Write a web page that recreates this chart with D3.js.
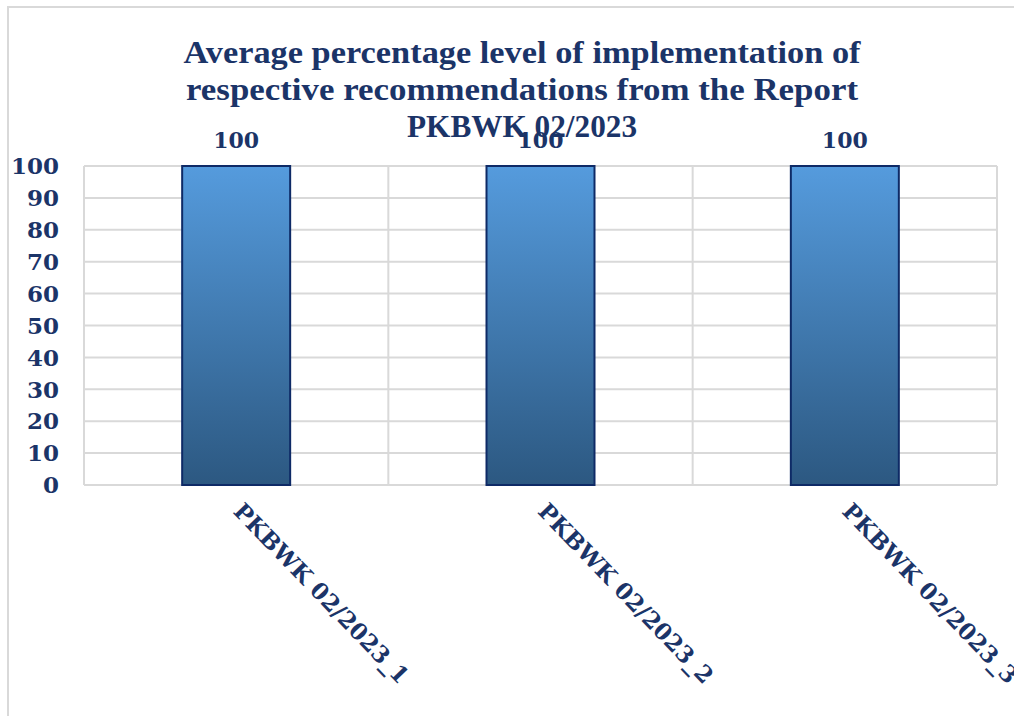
<!DOCTYPE html>
<html>
<head>
<meta charset="utf-8">
<script src="https://cdn.jsdelivr.net/npm/d3@7"></script>
<style>
  body { margin: 0; background: #fff; }
  svg { display: block; }
</style>
</head>
<body>
<svg width="1014" height="716"></svg>
<script>
  // data
  const categories = ['PKBWK 02/2023_1', 'PKBWK 02/2023_2', 'PKBWK 02/2023_3'];
  const values = [100, 100, 100];
  const yTicks = [0, 10, 20, 30, 40, 50, 60, 70, 80, 90, 100];
  const titleLines = [
    'Average percentage level of implementation of',
    'respective recommendations from the Report',
    'PKBWK 02/2023'
  ];

  const svg = d3.select('svg');
  const navy = '#1b3468';
  const titleFont = '"Liberation Serif", "DejaVu Serif", serif';
  const font = '"DejaVu Serif", serif';

  // outer chart border
  svg.append('rect')
    .attr('x', 8).attr('y', 7).attr('width', 1020).attr('height', 730)
    .attr('fill', 'none').attr('stroke', '#d9d9d9').attr('stroke-width', 2);

  const plot = { left: 84, right: 997, top: 166, bottom: 485 };

  const x = d3.scaleBand()
    .domain(categories)
    .range([plot.left, plot.right])
    .paddingInner(0).paddingOuter(0);

  const y = d3.scaleLinear().domain([0, 100]).range([plot.bottom, plot.top]);

  const defs = svg.append('defs');
  const grad = defs.append('linearGradient')
    .attr('id', 'barGrad').attr('x1', 0).attr('y1', 0).attr('x2', 0).attr('y2', 1);
  grad.append('stop').attr('offset', '0%').attr('stop-color', '#559bdd');
  grad.append('stop').attr('offset', '100%').attr('stop-color', '#2c5881');

  // horizontal gridlines
  svg.append('g').selectAll('line')
    .data(yTicks)
    .enter().append('line')
    .attr('x1', plot.left).attr('x2', plot.right)
    .attr('y1', d => y(d)).attr('y2', d => y(d))
    .attr('stroke', '#d9d9d9').attr('stroke-width', 2);

  // vertical gridlines at category boundaries
  const bounds = categories.map(c => x(c)).concat([plot.right]);
  svg.append('g').selectAll('line')
    .data(bounds)
    .enter().append('line')
    .attr('x1', d => d).attr('x2', d => d)
    .attr('y1', plot.top).attr('y2', plot.bottom)
    .attr('stroke', '#d9d9d9').attr('stroke-width', 2);

  // y axis labels
  svg.append('g').selectAll('text')
    .data(yTicks)
    .enter().append('text')
    .attr('x', 59).attr('y', d => y(d))
    .attr('dy', '0.36em')
    .attr('text-anchor', 'end')
    .attr('font-family', font).attr('font-weight', 'bold')
    .attr('font-size', 23).attr('fill', navy)
    .text(d => d);

  // bars
  const barW = 108;
  svg.append('g').selectAll('rect')
    .data(values)
    .enter().append('rect')
    .attr('x', (d, i) => x(categories[i]) + x.bandwidth() / 2 - barW / 2)
    .attr('y', d => y(d))
    .attr('width', barW)
    .attr('height', d => y(0) - y(d))
    .attr('fill', 'url(#barGrad)')
    .attr('stroke', '#0e2a66').attr('stroke-width', 2);

  // value labels
  svg.append('g').selectAll('text')
    .data(values)
    .enter().append('text')
    .attr('x', (d, i) => x(categories[i]) + x.bandwidth() / 2)
    .attr('y', d => y(d) - 18)
    .attr('text-anchor', 'middle')
    .attr('font-family', font).attr('font-weight', 'bold')
    .attr('font-size', 22).attr('fill', navy)
    .text(d => d);

  // rotated category labels
  svg.append('g').selectAll('text')
    .data(categories)
    .enter().append('text')
    .attr('transform', c => `translate(${x(c) + x.bandwidth() / 2 + 2},${plot.bottom + 22}) rotate(46)`)
    .attr('text-anchor', 'start')
    .attr('dy', '0.35em')
    .attr('font-family', font).attr('font-weight', 'bold')
    .attr('font-size', 23).attr('fill', navy)
    .attr('textLength', 240)
    .attr('lengthAdjust', 'spacingAndGlyphs')
    .text(c => c);

  // title
  const titleW = [677, 672, 230];
  svg.append('g').selectAll('text')
    .data(titleLines)
    .enter().append('text')
    .attr('x', 522)
    .attr('y', (d, i) => 63 + i * 37)
    .attr('text-anchor', 'middle')
    .attr('font-family', titleFont).attr('font-weight', 'bold')
    .attr('font-size', 32).attr('fill', navy)
    .attr('textLength', (d, i) => titleW[i])
    .attr('lengthAdjust', 'spacingAndGlyphs')
    .text(d => d);
</script>
</body>
</html>
